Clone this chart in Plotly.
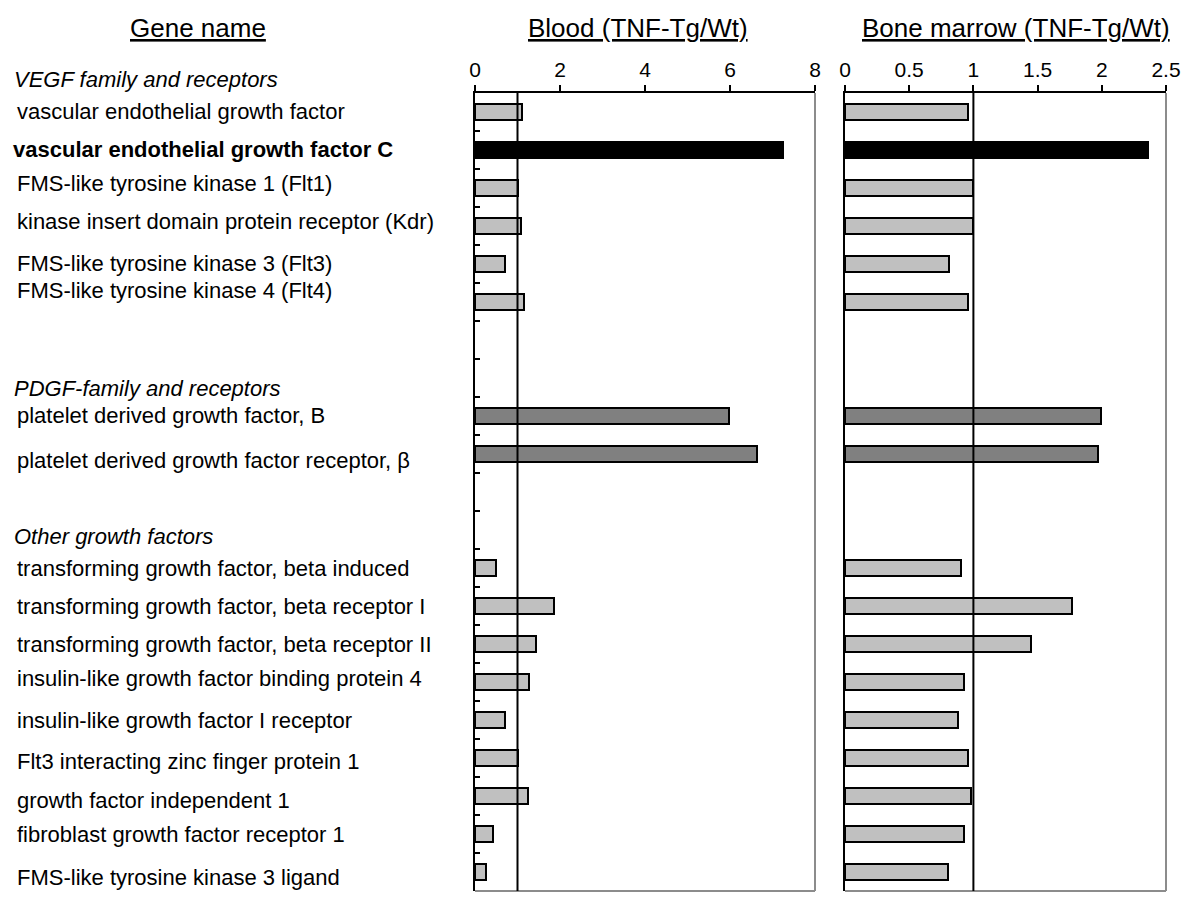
import plotly.graph_objects as go

# ---------------- data ----------------
genes = [
    "vascular endothelial growth factor",
    "vascular endothelial growth factor C",
    "FMS-like tyrosine kinase 1 (Flt1)",
    "kinase insert domain protein receptor (Kdr)",
    "FMS-like tyrosine kinase 3 (Flt3)",
    "FMS-like tyrosine kinase 4 (Flt4)",
    "gap1", "gap2",
    "platelet derived growth factor, B",
    "platelet derived growth factor receptor, β",
    "gap3", "gap4",
    "transforming growth factor, beta induced",
    "transforming growth factor, beta receptor I",
    "transforming growth factor, beta receptor II",
    "insulin-like growth factor binding protein 4",
    "insulin-like growth factor I receptor",
    "Flt3 interacting zinc finger protein 1",
    "growth factor independent 1",
    "fibroblast growth factor receptor 1",
    "FMS-like tyrosine kinase 3 ligand",
]
gene_group = ["VEGF"] * 6 + [None] * 2 + ["PDGF"] * 2 + [None] * 2 + ["Other"] * 9
blood = [1.10, 7.25, 1.00, 1.08, 0.70, 1.15, None, None, 5.97, 6.64, None, None,
         0.49, 1.87, 1.43, 1.26, 0.71, 1.02, 1.24, 0.43, 0.27]
marrow = [0.96, 2.36, 1.00, 1.00, 0.81, 0.96, None, None, 1.99, 1.97, None, None,
          0.90, 1.77, 1.45, 0.93, 0.88, 0.96, 0.98, 0.93, 0.80]
group_headers = {"VEGF": "VEGF family and receptors",
                 "PDGF": "PDGF-family and receptors",
                 "Other": "Other growth factors"}
highlight_gene = "vascular endothelial growth factor C"
blood_ticks = [0, 2, 4, 6, 8]
marrow_ticks = [0, 0.5, 1, 1.5, 2, 2.5]
panel_titles = ["Gene name", "Blood (TNF-Tg/Wt)", "Bone marrow (TNF-Tg/Wt)"]

# ---------------- style ----------------
FONT = "Liberation Sans, Arial, Helvetica, sans-serif"
OFF = 8                      # page body margin in the browser
W, H = 1200 - OFF, 912 - OFF


def xp(px):
    return (px - OFF) / W


def yp(py):
    return 1 - (py - OFF) / H


ydom = [yp(891), yp(93)]
x1dom = [xp(475), xp(815)]
x2dom = [xp(845), xp(1166)]


def bar_color(g, grp):
    if g == highlight_gene:
        return "#000000"
    if grp == "PDGF":
        return "#808080"
    return "#c0c0c0"


idx = [i for i, v in enumerate(blood) if v is not None]
ys = [genes[i] for i in idx]
cols = [bar_color(genes[i], gene_group[i]) for i in idx]

fig = go.Figure()
fig.add_trace(go.Bar(x=[blood[i] for i in idx], y=ys, orientation="h",
                     marker=dict(color=cols, line=dict(color="black", width=2)),
                     width=0.44, xaxis="x", yaxis="y", showlegend=False))
fig.add_trace(go.Bar(x=[marrow[i] for i in idx], y=ys, orientation="h",
                     marker=dict(color=cols, line=dict(color="black", width=2)),
                     width=0.44, xaxis="x2", yaxis="y2", showlegend=False))

common_x = dict(side="top", showline=True, linecolor="black", linewidth=2,
                ticks="outside", ticklen=6, tickwidth=2, tickcolor="black",
                showgrid=False, zeroline=False,
                tickfont=dict(family=FONT, size=21, color="black"))
yrange = [len(genes) - 0.5, -0.5]
fig.update_layout(
    width=W, height=H, margin=dict(l=0, r=0, t=0, b=0, autoexpand=False),
    paper_bgcolor="white", plot_bgcolor="white", bargap=0,
    xaxis=dict(domain=x1dom, range=[0, 8], tickvals=blood_ticks, anchor="y", **common_x),
    xaxis2=dict(domain=x2dom, range=[0, 2.5], tickvals=marrow_ticks, anchor="y2", **common_x),
    yaxis=dict(domain=ydom, type="category", categoryorder="array", categoryarray=genes,
               range=yrange, autorange=False, showticklabels=False, showline=True,
               linecolor="black", linewidth=2, ticks="inside", tickson="boundaries",
               ticklen=5, tickwidth=2, tickcolor="black", showgrid=False, anchor="x"),
    yaxis2=dict(domain=ydom, type="category", categoryorder="array", categoryarray=genes,
                range=yrange, autorange=False, showticklabels=False, showline=True,
                linecolor="black", linewidth=2, ticks="", showgrid=False, anchor="x2"),
)

# frame lines (gray right/bottom) and reference line at 1
for xr, yr in (("x", "y"), ("x2", "y2")):
    fig.add_shape(type="line", xref=xr + " domain", yref=yr + " domain", x0=1, x1=1, y0=0, y1=1,
                  line=dict(color="#8c8c8c", width=2))
    fig.add_shape(type="line", xref=xr + " domain", yref=yr + " domain", x0=0, x1=1, y0=0, y1=0,
                  line=dict(color="#8c8c8c", width=2))
    fig.add_shape(type="line", xref=xr, yref=yr + " domain", x0=1, x1=1, y0=0, y1=1,
                  line=dict(color="black", width=2))

# panel titles
title_x = [198, 638, 1016]
for t, xx in zip(panel_titles, title_x):
    fig.add_annotation(text=f"<u>{t}</u>", x=xp(xx), y=yp(28), xref="paper", yref="paper",
                       showarrow=False, font=dict(family=FONT, size=26, color="black"),
                       xanchor="center", yanchor="middle")

# gene labels
label_nudge = {"FMS-like tyrosine kinase 4 (Flt4)": 11,
               "platelet derived growth factor receptor, β": -7,
               "FMS-like tyrosine kinase 1 (Flt1)": 4,
               "kinase insert domain protein receptor (Kdr)": 4,
               "insulin-like growth factor binding protein 4": 4,
               "Flt3 interacting zinc finger protein 1": -3,
               "growth factor independent 1": -4,
               "FMS-like tyrosine kinase 3 ligand": -5}
header_shift = {"VEGF": 32, "PDGF": 27, "Other": 32}
seen = set()
for g, grp in zip(genes, gene_group):
    if grp is None:
        continue
    if grp not in seen:
        seen.add(grp)
        fig.add_annotation(text=f"<i>{group_headers[grp]}</i>", x=xp(12), xref="paper",
                           y=g, yref="y", yshift=header_shift[grp], showarrow=False,
                           xanchor="left", font=dict(family=FONT, size=22, color="black"))
    txt = f"<b>{g}</b>" if g == highlight_gene else g
    fig.add_annotation(text=txt, x=xp(11 if g == highlight_gene else 15), xref="paper",
                       y=g, yref="y", yshift=label_nudge.get(g, 0), showarrow=False,
                       xanchor="left", font=dict(family=FONT, size=22, color="black"))

fig.write_html("out.html")
